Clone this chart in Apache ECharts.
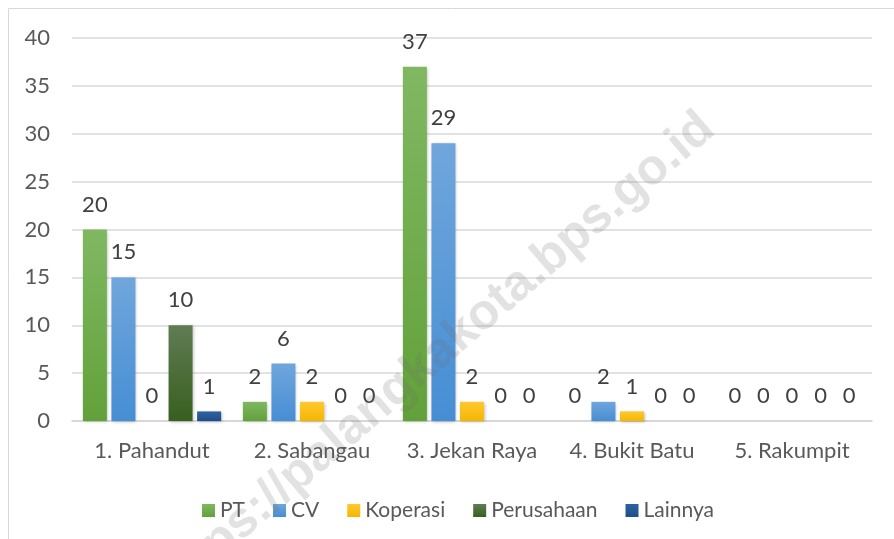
<!DOCTYPE html>
<html>
<head>
<meta charset="utf-8">
<script src="https://cdn.jsdelivr.net/npm/echarts@6/dist/echarts.min.js"></script>
<style>
  html, body { margin: 0; padding: 0; background: #fff; }
  #chartId { width: 894px; height: 539px; }
</style>
</head>
<body>
<div id="chartId"></div>
<script>
// data
var kecamatan = ['1. Pahandut', '2. Sabangau', '3. Jekan Raya', '4. Bukit Batu', '5. Rakumpit']
var seriesNames = ['PT', 'CV', 'Koperasi', 'Perusahaan', 'Lainnya']
var ptData = [20, 2, 37, 0, 0]
var cvData = [15, 6, 29, 2, 0]
var koperasiData = [0, 2, 2, 1, 0]
var perusahaanData = [10, 0, 0, 0, 0]
var lainnyaData = [1, 0, 0, 0, 0]
var yTicks = [0, 5, 10, 15, 20, 25, 30, 35, 40]

var allData = [ptData, cvData, koperasiData, perusahaanData, lainnyaData]
// warna gradasi atas -> bawah
var barColors = [
  ['#80b862', '#62a13a'],
  ['#70a6dc', '#468ed4'],
  ['#ffc82e', '#f4b700'],
  ['#607c54', '#385f1e'],
  ['#2d63a1', '#1e4e8b']
]

function grad(c) {
  return new echarts.graphic.LinearGradient(0, 0, 0, 1, [
    { offset: 0, color: c[0] },
    { offset: 1, color: c[1] }
  ])
}

var fontName = 'Lato, "Open Sans", sans-serif'
var fs = 22

var series = seriesNames.map(function (name, i) {
  return {
    name: name,
    type: 'bar',
    barWidth: 24,
    barGap: '19%',
    data: allData[i],
    itemStyle: {
      color: grad(barColors[i]),
      shadowColor: 'rgba(0,0,0,0.25)',
      shadowBlur: 3,
      shadowOffsetX: 1,
      shadowOffsetY: 1
    },
    label: {
      show: true,
      position: 'top',
      distance: 14,
      color: '#404040',
      fontSize: fs,
      fontFamily: fontName
    }
  }
})

var myBarChart = echarts.init(document.getElementById('chartId'))
myBarChart.setOption({
  animation: false,
  color: barColors.map(function (c) { return c[1] }),
  textStyle: { fontFamily: fontName },
  grid: { left: 72, right: 22, top: 38, bottom: 118, containLabel: false },
  legend: {
    data: seriesNames,
    left: 197,
    top: 495,
    itemWidth: 13,
    itemHeight: 13,
    itemGap: 28,
    icon: 'rect',
    textStyle: { color: '#595959', fontSize: 21, fontFamily: fontName }
  },
  xAxis: {
    type: 'category',
    data: kecamatan,
    axisTick: { show: false },
    axisLine: { lineStyle: { color: '#d4d4d4', width: 1.5 } },
    axisLabel: { color: '#595959', fontSize: fs, margin: 19, interval: 0, fontFamily: fontName }
  },
  yAxis: {
    type: 'value',
    min: yTicks[0],
    max: yTicks[yTicks.length - 1],
    interval: 5,
    axisLine: { show: false },
    axisTick: { show: false },
    axisLabel: { color: '#595959', fontSize: fs, margin: 22, fontFamily: fontName },
    splitLine: { lineStyle: { color: '#d9d9d9', width: 1.5 } }
  },
  graphic: [
    {
      type: 'rect',
      shape: { x: 8.5, y: 8.5, width: 1000, height: 1000 },
      style: { fill: 'none', stroke: '#d9d9d9', lineWidth: 1 },
      silent: true,
      z: -10
    },
    {
      // watermark
      type: 'text',
      x: 708,
      y: 122,
      rotation: 0.71,
      style: {
        text: 'https://palangkakota.bps.go.id',
        align: 'right',
        verticalAlign: 'middle',
        fontSize: 50,
        fontWeight: 'bold',
        fontFamily: '"Liberation Sans", Arial, sans-serif',
        fill: 'rgba(110,110,110,0.2)'
      },
      silent: true,
      z: 100
    }
  ],
  series: series
})
</script>
</body>
</html>
